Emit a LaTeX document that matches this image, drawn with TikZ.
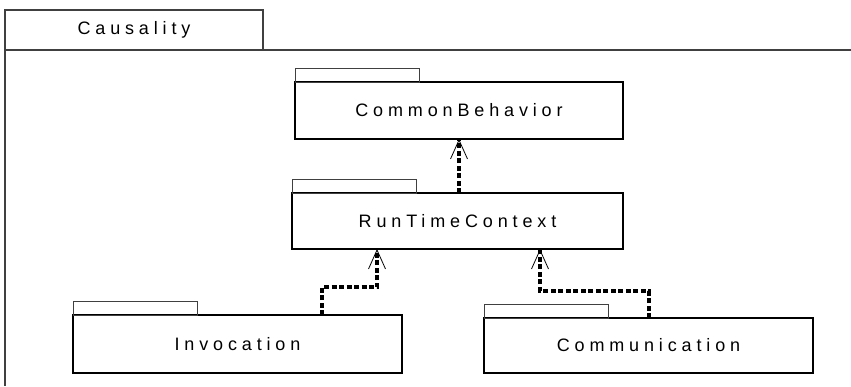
\documentclass[tikz,border=0pt]{standalone}
\usepackage{fontspec}
\newfontfamily\umlfont[LetterSpace=27]{Liberation Sans}
\usetikzlibrary{arrows.meta}

\begin{document}
\begin{tikzpicture}[x=1pt,y=-1pt,
  pkg/.style={draw=black,line width=1.3pt,inner sep=0pt,outer sep=0pt,
    font=\umlfont\fontsize{18}{21}\selectfont},
  tab/.style={draw=black!75,line width=0.8pt},
  dep/.style={line width=4pt,dash pattern=on 5pt off 2.5pt,
    -{Straight Barb[length=19pt 0 0,width=17pt 0 0,line width=0.8pt 0 0]}}]
\useasboundingbox (0,0) rectangle (851,386);
%

% frame
\draw[black!75,line width=1.5pt] (5,10) rectangle (263,50);
\draw[black!75,line width=2pt] (5,10) -- (5,386);
\draw[black!75,line width=2pt] (5,50) -- (851,50);
\node[font=\umlfont\fontsize{18}{21}\selectfont] (causal) at (134,30) {Causality};

% packages
\node[pkg,minimum width=328pt,minimum height=57pt] (cb) at (459,110.5) {CommonBehavior};
\node[pkg,minimum width=331pt,minimum height=56pt] (ctx) at (457.5,221) {RunTimeContext};
\node[pkg,minimum width=329pt,minimum height=58pt] (inv) at (237.5,344) {Invocation};
\node[pkg,minimum width=329pt,minimum height=55pt] (com) at (648.5,345.5) {Communication};

%tabs
\foreach \n in {cb,ctx,inv,com} {
\draw[tab] (\n.north west) rectangle ++(124,-14);
}

% dependencies
\draw[dep] (ctx.north -| cb.south) -- (cb.south);
\draw[dep] (inv.north -| 322,0) -- (322,287) -| (ctx.south -| 377,0);
\draw[dep] (com.north) -- (648.5,291) -| (ctx.south -| 540,0);

\end{tikzpicture}
\end{document}
